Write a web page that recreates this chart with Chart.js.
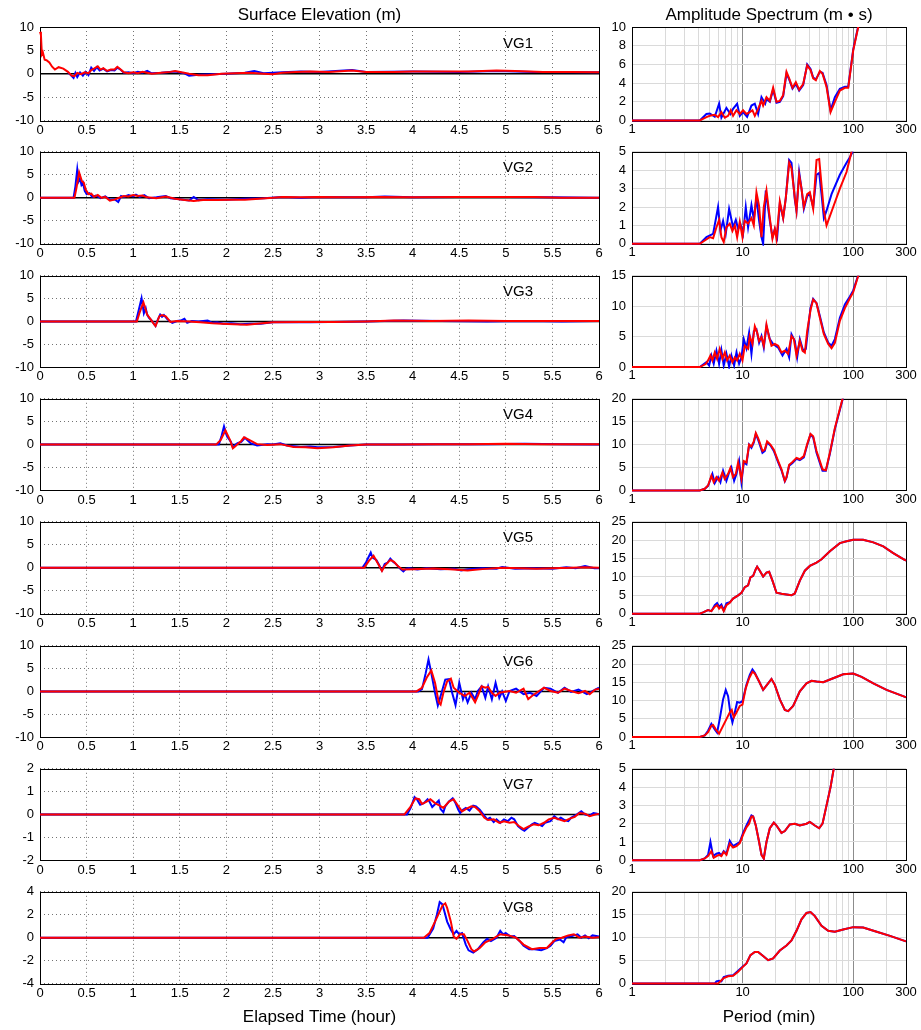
<!DOCTYPE html>
<html>
<head>
<meta charset="utf-8">
<title>Surface elevation and amplitude spectra, gauges VG1-VG8</title>
<script src="https://cdn.jsdelivr.net/npm/chart.js@4.4.1/dist/chart.umd.min.js"></script>
<style>
  html, body { margin: 0; padding: 0; background: #fff; }
  #figure { position: relative; width: 921px; height: 1030px; overflow: hidden; background: #fff; }
  #figure canvas { position: absolute; }
</style>
</head>
<body>
<div id="figure"></div>
<script>
// ---------- axis ticks ----------
const hourTicks = [0, 0.5, 1, 1.5, 2, 2.5, 3, 3.5, 4, 4.5, 5, 5.5, 6];
const periodGrid = [1, 2, 3, 4, 5, 6, 7, 8, 9, 10, 20, 30, 40, 50, 60, 70, 80, 90, 100, 200, 300];
const periodLabels = [1, 10, 100, 300];
const periodMajor = [10, 100];

const gaugeNames = ['VG1', 'VG2', 'VG3', 'VG4', 'VG5', 'VG6', 'VG7', 'VG8'];
const elevLimits = [10, 10, 10, 10, 10, 10, 2, 4];
const elevSteps = [5, 5, 5, 5, 5, 5, 1, 2];
const specLimits = [10, 5, 15, 20, 25, 25, 5, 20];
const specSteps = [2, 1, 5, 5, 5, 5, 1, 5];

// ---------- surface elevation [hour, m] ----------
const vg1ObsElev = [[0.3,0.3],[0.33,-0.3],[0.36,-0.9],[0.38,0.2],[0.4,-0.7],[0.43,0.3],[0.46,-0.4],[0.49,0.4],[0.52,-0.3],[0.55,1.3],[0.58,0.6],[0.61,1.4],[0.64,0.7],[0.68,1.1],[0.72,0.5],[0.76,0.8],[0.8,0.7],[0.83,1.3],[0.87,0.8],[0.9,0.2],[0.95,0.3],[1.0,0.1],[1.05,0.4],[1.1,0.2],[1.15,0.6],[1.2,0.1],[1.3,0.2],[1.45,0.5],[1.55,0.1],[1.6,-0.4],[1.7,-0.2],[1.85,-0.1],[2.0,0.0],[2.2,0.2],[2.3,0.6],[2.4,0.1],[2.6,0.3],[2.8,0.5],[3.0,0.4],[3.35,0.8],[3.5,0.4],[4.0,0.5],[4.5,0.4],[4.9,0.6],[5.3,0.4],[6.0,0.3]];
const vg1SimElev = [[0,9.0],[0.01,8.3],[0.02,4.2],[0.03,4.6],[0.05,3.0],[0.07,2.9],[0.1,2.4],[0.13,1.5],[0.16,0.9],[0.2,1.4],[0.25,1.1],[0.3,0.4],[0.34,-0.4],[0.37,-0.5],[0.4,0.2],[0.44,-0.1],[0.48,0.3],[0.52,0.1],[0.55,0.8],[0.58,1.1],[0.62,1.6],[0.65,0.9],[0.68,1.2],[0.72,0.6],[0.76,0.9],[0.8,0.9],[0.83,1.5],[0.86,1.0],[0.9,0.3],[0.95,0.1],[1.0,0.3],[1.05,0.1],[1.1,0.4],[1.15,0.2],[1.2,0.0],[1.3,0.2],[1.4,0.4],[1.45,0.6],[1.52,0.3],[1.6,0.0],[1.7,-0.3],[1.8,-0.3],[1.85,-0.2],[1.95,0.0],[2.1,0.1],[2.25,0.2],[2.4,0.0],[2.5,-0.1],[2.6,0.2],[2.75,0.4],[2.9,0.5],[3.1,0.4],[3.35,0.7],[3.5,0.4],[3.8,0.4],[4.0,0.5],[4.3,0.5],[4.6,0.5],[4.9,0.7],[5.1,0.6],[5.4,0.4],[5.7,0.4],[6.0,0.3]];

const vg2ObsElev = [[0,0],[0.36,0],[0.38,2.5],[0.40,6.2],[0.415,3.6],[0.43,4.2],[0.445,2.8],[0.46,3.3],[0.48,1.5],[0.5,0.8],[0.53,1.0],[0.56,0.2],[0.6,0.5],[0.65,-0.1],[0.7,0.3],[0.75,-0.4],[0.8,-0.3],[0.84,-0.9],[0.87,0.4],[0.9,0.2],[0.95,0.6],[1.0,0.3],[1.03,0.7],[1.07,0.2],[1.12,0.6],[1.17,-0.1],[1.25,0.1],[1.35,0.4],[1.4,-0.1],[1.5,-0.3],[1.6,-0.6],[1.65,0.2],[1.7,-0.5],[1.8,-0.3],[2.0,-0.4],[2.2,-0.2],[2.4,-0.1],[2.6,0.2],[2.8,0.0],[3.0,0.2],[3.5,0.1],[3.7,0.3],[4.0,0.1],[4.5,0.2],[5.0,0.2],[5.5,0.1],[6.0,0.0]];
const vg2SimElev = [[0,0],[0.37,0],[0.39,2.0],[0.42,5.5],[0.45,3.6],[0.47,3.3],[0.49,1.8],[0.52,0.8],[0.55,0.9],[0.58,0.2],[0.62,0.6],[0.66,0.0],[0.7,0.2],[0.75,-0.6],[0.8,-0.4],[0.85,0.0],[0.9,0.4],[0.95,0.3],[1.0,0.6],[1.05,0.4],[1.1,0.5],[1.15,0.1],[1.25,-0.1],[1.35,0.3],[1.45,-0.2],[1.55,-0.5],[1.65,-0.7],[1.75,-0.5],[1.9,-0.5],[2.05,-0.4],[2.2,-0.4],[2.35,-0.2],[2.5,0.0],[2.6,0.2],[2.8,0.1],[3.0,0.2],[3.3,0.1],[3.65,0.2],[4.0,0.1],[4.5,0.2],[5.0,0.2],[5.3,0.2],[5.6,0.0],[6.0,0.0]];

const vg3ObsElev = [[0,0],[1.03,0],[1.06,2.5],[1.09,5.1],[1.115,1.8],[1.135,2.9],[1.15,1.5],[1.17,0.8],[1.2,0.2],[1.225,-0.6],[1.24,-1.0],[1.26,0.2],[1.29,1.5],[1.31,1.0],[1.33,1.4],[1.37,0.4],[1.42,-0.3],[1.47,0.1],[1.51,0.2],[1.55,0.6],[1.58,-0.3],[1.63,0.1],[1.7,0.0],[1.8,0.2],[1.85,-0.3],[1.9,-0.2],[1.97,-0.5],[2.05,-0.4],[2.15,-0.6],[2.25,-0.5],[2.37,-0.5],[2.5,-0.2],[2.7,-0.1],[2.9,-0.2],[3.1,-0.1],[3.5,0.0],[3.9,0.2],[4.3,0.1],[4.8,0.0],[5.2,0.1],[5.6,0.0],[6.0,0.1]];
const vg3SimElev = [[0,0],[1.04,0],[1.07,2.0],[1.11,4.2],[1.15,1.5],[1.19,0.4],[1.22,-0.5],[1.24,-1.0],[1.26,0.0],[1.28,1.1],[1.31,1.4],[1.35,1.1],[1.4,-0.1],[1.47,0.1],[1.6,0.0],[1.72,-0.2],[1.85,-0.4],[1.95,-0.5],[2.08,-0.6],[2.22,-0.7],[2.33,-0.5],[2.5,-0.2],[2.8,-0.1],[3.15,-0.1],[3.5,0.0],[3.8,0.2],[4.2,0.1],[4.6,0.2],[5.0,0.1],[5.5,0.1],[6.0,0.1]];

const vg4ObsElev = [[0,0],[1.92,0],[1.95,2.0],[1.975,4.0],[2.0,2.2],[2.01,1.7],[2.05,0.6],[2.07,-0.6],[2.1,0.0],[2.12,0.3],[2.16,0.6],[2.2,1.5],[2.23,0.9],[2.26,0.3],[2.33,-0.2],[2.44,0.1],[2.5,0.0],[2.58,0.3],[2.65,-0.2],[2.8,-0.5],[2.9,-0.4],[2.98,-0.6],[3.15,-0.5],[3.33,-0.2],[3.5,0.0],[3.9,0.0],[4.3,0.1],[4.8,0.1],[5.2,0.2],[5.6,0.1],[6.0,0.0]];
const vg4SimElev = [[0,0],[1.89,0],[1.94,1.0],[1.99,3.1],[2.04,1.0],[2.07,-0.8],[2.1,-0.3],[2.12,0.1],[2.16,0.8],[2.19,1.6],[2.24,1.1],[2.33,0.1],[2.44,-0.1],[2.58,0.1],[2.72,-0.5],[2.85,-0.6],[2.98,-0.8],[3.15,-0.6],[3.33,-0.2],[3.5,0.0],[3.8,0.0],[4.2,0.1],[4.6,0.1],[5.0,0.2],[5.4,0.1],[6.0,0.1]];

const vg5ObsElev = [[0,0],[3.46,0],[3.5,1.2],[3.55,3.3],[3.57,2.2],[3.61,1.7],[3.64,0.6],[3.66,-0.3],[3.67,-0.6],[3.7,0.8],[3.73,1.1],[3.76,2.0],[3.79,1.3],[3.81,1.0],[3.84,0.4],[3.87,-0.3],[3.9,-0.8],[3.93,-0.2],[3.96,-0.1],[4.05,-0.4],[4.15,-0.1],[4.3,-0.3],[4.45,-0.2],[4.52,-0.6],[4.6,-0.3],[4.75,-0.1],[4.9,-0.2],[4.96,0.15],[5.1,-0.2],[5.3,-0.1],[5.5,-0.2],[5.65,0.1],[5.75,-0.1],[5.85,0.4],[5.95,-0.1],[6.0,-0.1]];
const vg5SimElev = [[0,0],[3.48,0],[3.53,1.5],[3.58,2.6],[3.63,0.8],[3.67,-0.7],[3.7,0.4],[3.76,1.7],[3.8,1.3],[3.84,0.4],[3.89,-0.4],[4.0,-0.3],[4.22,-0.15],[4.4,-0.3],[4.59,-0.6],[4.75,-0.3],[4.96,0.0],[5.15,-0.1],[5.33,-0.2],[5.5,-0.1],[5.7,0.0],[5.85,0.1],[6.0,0.0]];

const vg6ObsElev = [[0,0],[4.06,0],[4.1,0.5],[4.14,4.0],[4.17,7.0],[4.2,4.0],[4.24,-0.3],[4.27,-3.1],[4.31,-0.3],[4.35,2.6],[4.39,2.7],[4.42,0.0],[4.46,-3.0],[4.5,1.9],[4.54,-1.7],[4.56,-0.6],[4.59,-2.4],[4.63,-0.3],[4.67,-1.7],[4.7,0.1],[4.74,1.1],[4.78,-1.4],[4.81,1.1],[4.85,-1.7],[4.89,1.9],[4.93,-1.4],[4.96,0.0],[5.0,-2.1],[5.04,0.1],[5.11,0.6],[5.19,-0.6],[5.26,-0.3],[5.33,-1.0],[5.41,0.8],[5.48,0.6],[5.56,-0.3],[5.63,0.8],[5.7,-0.1],[5.78,0.4],[5.87,-0.6],[5.96,0.4],[6.0,0.8]];
const vg6SimElev = [[0,0],[4.04,0],[4.1,0.8],[4.15,3.0],[4.2,4.6],[4.24,1.9],[4.28,-2.4],[4.3,-2.9],[4.33,-0.3],[4.37,2.2],[4.41,2.8],[4.44,0.8],[4.5,-0.3],[4.56,-1.0],[4.61,-0.3],[4.67,-2.4],[4.7,-1.0],[4.74,1.1],[4.78,0.8],[4.81,1.0],[4.85,-0.3],[4.89,-1.0],[4.93,-0.3],[5.04,0.1],[5.11,-0.3],[5.19,0.6],[5.24,-1.7],[5.28,-1.0],[5.33,-0.3],[5.41,0.8],[5.48,0.1],[5.56,-0.3],[5.63,0.6],[5.7,0.1],[5.78,-0.4],[5.85,0.1],[5.9,-0.6],[5.96,0.4],[6.0,0.6]];

const vg7ObsElev = [[0,0],[3.94,0],[3.98,0.3],[4.02,0.76],[4.05,0.64],[4.08,0.43],[4.12,0.5],[4.16,0.67],[4.18,0.57],[4.21,0.33],[4.24,0.45],[4.28,0.61],[4.3,0.24],[4.33,0.1],[4.35,0.36],[4.39,0.57],[4.43,0.71],[4.46,0.5],[4.49,0.21],[4.51,0.07],[4.54,0.21],[4.57,0.29],[4.61,0.17],[4.65,0.39],[4.68,0.36],[4.72,0.21],[4.76,0.0],[4.8,-0.21],[4.83,-0.14],[4.87,-0.33],[4.9,-0.21],[4.94,-0.36],[4.98,-0.21],[5.02,-0.29],[5.06,-0.14],[5.09,-0.21],[5.13,-0.5],[5.17,-0.64],[5.2,-0.71],[5.24,-0.57],[5.28,-0.43],[5.31,-0.36],[5.35,-0.43],[5.39,-0.5],[5.42,-0.36],[5.48,-0.29],[5.52,-0.07],[5.56,-0.21],[5.59,-0.14],[5.63,-0.24],[5.67,-0.29],[5.7,-0.14],[5.76,0.0],[5.81,0.14],[5.85,0.0],[5.9,-0.04],[5.94,0.07],[5.98,0.04],[6.0,0.0]];
const vg7SimElev = [[0,0],[3.91,0],[3.97,0.3],[4.03,0.71],[4.07,0.67],[4.1,0.46],[4.15,0.57],[4.19,0.67],[4.24,0.5],[4.29,0.39],[4.33,0.29],[4.39,0.57],[4.44,0.67],[4.48,0.43],[4.53,0.14],[4.57,0.24],[4.63,0.36],[4.67,0.33],[4.72,0.14],[4.77,-0.14],[4.81,-0.24],[4.87,-0.21],[4.93,-0.36],[4.98,-0.29],[5.04,-0.36],[5.09,-0.33],[5.14,-0.5],[5.19,-0.64],[5.24,-0.53],[5.3,-0.43],[5.35,-0.47],[5.41,-0.36],[5.46,-0.21],[5.52,-0.14],[5.57,-0.21],[5.63,-0.29],[5.68,-0.19],[5.74,-0.1],[5.79,0.07],[5.85,0.04],[5.9,-0.07],[5.96,0.0],[6.0,0.03]];

const vg8ObsElev = [[0,0],[4.16,0],[4.22,0.8],[4.26,2.0],[4.29,3.1],[4.32,2.9],[4.34,2.3],[4.37,1.4],[4.41,0.7],[4.44,0.3],[4.47,0.6],[4.5,0.3],[4.53,0.4],[4.57,-0.6],[4.6,-1.1],[4.65,-1.3],[4.7,-1.0],[4.76,-0.4],[4.8,-0.1],[4.84,-0.3],[4.9,0.0],[4.94,0.6],[4.97,0.3],[5.0,0.4],[5.05,0.1],[5.09,0.15],[5.15,-0.3],[5.19,-0.7],[5.25,-1.0],[5.31,-1.0],[5.38,-1.1],[5.44,-0.9],[5.48,-0.7],[5.52,-0.3],[5.58,-0.15],[5.62,-0.4],[5.65,0.05],[5.71,0.15],[5.77,0.3],[5.81,0.0],[5.85,0.2],[5.89,-0.05],[5.93,0.2],[6.0,0.1]];
const vg8SimElev = [[0,0],[4.12,0],[4.18,0.4],[4.24,1.4],[4.32,2.8],[4.35,3.0],[4.37,2.6],[4.41,1.4],[4.44,0.1],[4.47,-0.1],[4.51,0.3],[4.55,0.3],[4.59,-0.3],[4.63,-1.0],[4.66,-1.2],[4.72,-0.9],[4.78,-0.4],[4.86,-0.1],[4.94,0.3],[5.03,0.2],[5.11,0.0],[5.19,-0.6],[5.28,-1.0],[5.36,-0.9],[5.44,-0.9],[5.5,-0.4],[5.54,-0.1],[5.6,0.0],[5.67,0.2],[5.73,0.3],[5.79,0.0],[5.85,0.1],[5.93,0.0],[6.0,0.05]];

// ---------- amplitude spectra [period min, m·s] ----------
const vg1ObsSpec = [[1,0],[4.10,0],[4.71,0.7],[5.05,0.75],[5.60,0.4],[6.13,1.8],[6.43,0.3],[7.14,1.35],[7.76,0.7],[8.20,1.25],[8.92,1.8],[9.43,0.5],[10.1,0.9],[10.98,0.4],[12.02,1.6],[12.89,1.8],[13.81,0.7],[14.81,2.5],[16.0,1.8],[16.43,2.3],[17.62,2.0],[18.88,3.3],[20.24,1.9],[21.70,2.0],[23.26,2.6],[24.93,5.0],[26.35,4.4],[28.25,3.4],[30.28,3.9],[32.45,3.2],[35.28,3.8],[38.35,6.0],[41.11,5.5],[43.45,4.6],[45.93,4.4],[49.93,5.2],[52.78,5.1],[57.38,3.8],[62.37,1.1],[68.25,2.5],[75.72,3.4],[84.06,3.6],[90.11,3.6],[100,7.6],[111,10.1],[120,11.6]];
const vg1SimSpec = [[1,0],[4.10,0],[4.71,0.36],[5.05,0.5],[5.60,0.6],[6.00,0.36],[6.43,0.9],[6.90,0.3],[7.39,0.5],[7.81,1.1],[8.20,0.5],[8.80,1.1],[9.43,0.7],[10.1,1.1],[10.83,0.7],[11.61,0.9],[12.27,1.1],[12.89,0.5],[13.81,1.25],[14.81,2.1],[15.33,1.6],[16.43,2.5],[17.62,2.1],[18.88,3.5],[20.24,2.0],[21.70,2.1],[23.26,2.7],[24.93,5.2],[26.35,4.5],[28.25,3.5],[30.28,4.1],[32.45,3.3],[35.28,3.9],[38.35,5.9],[41.11,5.4],[43.45,4.5],[45.93,4.3],[49.93,5.3],[52.78,5.0],[57.38,3.6],[62.37,0.9],[68.25,2.0],[75.72,3.2],[84.06,3.5],[90.11,3.5],[100,7.5],[111,10.0],[120,11.5]];

const vg2ObsSpec = [[1,0],[4.10,0],[4.71,0.36],[5.41,0.54],[6.00,2.0],[6.30,0.7],[6.66,1.25],[7.04,0.54],[7.55,1.9],[8.20,0.9],[8.68,1.3],[9.11,0.8],[9.56,1.07],[10.1,0.54],[10.68,2.0],[11.21,0.9],[12.02,2.1],[12.62,1.34],[13.34,2.5],[14.10,1.25],[14.81,0.36],[15.33,0.0],[16.20,2.9],[17.62,1.25],[18.62,0.36],[19.55,0.8],[20.53,0.36],[21.70,2.2],[23.26,1.4],[24.58,2.5],[26.35,4.55],[27.67,4.4],[29.65,2.4],[30.70,1.8],[32.45,3.9],[34.07,3.0],[35.77,1.9],[38.35,2.6],[40.54,2.7],[43.45,2.0],[46.58,3.75],[49.24,3.85],[51.69,2.7],[54.27,1.4],[57.38,1.8],[63.67,2.7],[75.72,3.75],[87.03,4.4],[93.28,4.7],[98.6,5.0],[105,5.5]];
const vg2SimSpec = [[1,0],[4.10,0],[4.55,0.18],[5.05,0.36],[5.41,0.3],[5.80,0.9],[6.13,1.3],[6.43,0.36],[6.75,0.1],[7.14,0.9],[7.65,1.1],[8.09,0.7],[8.50,1.0],[8.92,0.36],[9.43,1.2],[9.97,0.36],[10.46,1.25],[11.21,1.1],[12.02,1.4],[12.62,1.0],[13.34,2.8],[14.10,2.05],[14.81,0.36],[15.54,2.0],[16.43,2.9],[17.62,1.4],[18.62,0.27],[19.55,0.8],[20.24,0.27],[21.70,2.3],[23.26,1.4],[24.58,2.5],[26.35,4.4],[27.67,4.1],[29.65,2.5],[30.70,1.8],[32.45,3.75],[34.07,3.0],[35.77,2.0],[38.35,2.7],[40.54,2.8],[43.45,1.9],[46.58,4.55],[49.24,4.6],[51.69,3.2],[54.27,1.8],[57.38,1.0],[65.92,2.0],[75.72,3.0],[87.03,3.9],[96.59,5.0],[105,5.6]];

const vg3ObsSpec = [[1,0],[4.10,0],[4.71,0.8],[4.98,0.27],[5.22,1.9],[5.48,0.54],[5.80,2.7],[6.13,0.54],[6.43,2.8],[6.75,0.27],[7.14,2.2],[7.55,0.1],[7.92,1.9],[8.38,0.27],[8.80,2.4],[9.30,0.54],[9.76,1.6],[10.25,4.6],[10.83,3.1],[11.45,5.7],[12.02,2.2],[12.62,5.9],[13.34,6.2],[14.10,4.0],[14.81,5.1],[15.54,3.2],[16.43,6.7],[17.62,4.6],[18.88,3.8],[20.96,3.2],[22.94,1.9],[24.93,3.0],[26.35,1.6],[27.67,5.4],[29.65,4.3],[31.13,1.6],[32.91,4.6],[35.28,2.7],[37.29,3.0],[39.16,6.5],[41.11,9.7],[43.45,11.2],[46.58,10.5],[49.93,8.4],[54.27,5.7],[59.40,4.0],[63.67,3.5],[68.25,4.6],[75.72,8.1],[84.06,10.3],[93.28,11.6],[100,12.6],[111,15.1],[120,16.6]];
const vg3SimSpec = [[1,0],[4.10,0],[4.64,0.5],[4.87,1.1],[5.12,1.9],[5.33,1.1],[5.60,2.4],[5.88,1.35],[6.21,3.0],[6.57,1.35],[6.90,2.4],[7.24,1.1],[7.65,1.9],[8.09,0.8],[8.50,1.6],[8.92,1.1],[9.43,2.2],[9.97,1.1],[10.46,3.5],[11.21,3.0],[11.61,5.1],[12.27,3.8],[12.89,6.7],[13.53,5.7],[14.10,4.3],[14.81,4.9],[15.54,3.5],[16.43,7.0],[17.37,4.9],[18.24,3.5],[19.55,3.8],[20.96,3.5],[22.46,2.4],[24.08,2.7],[25.81,2.2],[27.67,5.1],[29.04,4.6],[30.70,1.9],[32.91,4.3],[34.79,2.7],[36.52,2.4],[38.35,5.9],[41.11,9.4],[43.45,11.1],[46.58,10.5],[49.93,8.1],[54.27,5.4],[59.40,3.8],[63.67,3.1],[68.25,4.0],[75.72,7.6],[84.06,9.7],[93.28,11.3],[100,12.3],[111,15.0],[120,16.5]];

const vg4ObsSpec = [[1,0],[4.10,0],[4.55,0.36],[4.87,1.0],[5.33,3.6],[5.60,1.6],[6.00,2.9],[6.30,1.8],[6.66,4.3],[7.14,2.1],[7.55,3.9],[7.92,5.0],[8.38,2.1],[8.80,3.6],[9.30,6.4],[9.76,1.8],[10.25,6.1],[10.83,5.7],[11.45,10.0],[12.02,9.3],[12.62,10.4],[13.16,12.3],[13.81,11.1],[14.30,10.0],[15.12,8.2],[15.87,8.6],[16.66,10.5],[17.86,9.8],[19.15,8.6],[20.96,6.1],[22.46,4.4],[24.08,2.0],[24.93,2.8],[26.35,5.4],[28.25,6.0],[30.70,6.9],[32.91,6.6],[35.77,7.2],[38.35,9.9],[41.11,12.2],[43.45,11.6],[46.58,8.2],[49.93,6.0],[52.78,4.3],[56.57,4.3],[61.50,8.0],[68.25,13.4],[73.14,16.2],[80.07,19.8],[86,22.3]];
const vg4SimSpec = [[1,0],[4.10,0],[4.55,0.36],[4.87,1.07],[5.22,3.2],[5.48,1.8],[5.80,2.9],[6.13,2.1],[6.57,3.9],[6.90,2.5],[7.39,3.6],[7.76,4.9],[8.20,2.9],[8.68,3.6],[9.11,6.1],[9.76,2.5],[10.25,6.4],[10.83,6.1],[11.45,10.0],[12.02,9.6],[12.62,10.7],[13.16,12.5],[13.81,11.4],[14.30,10.4],[15.12,8.6],[15.87,8.9],[16.66,10.7],[17.86,10.0],[19.15,8.9],[20.96,6.4],[22.46,4.6],[24.08,2.1],[24.93,2.9],[26.35,5.6],[28.25,6.2],[30.70,7.1],[32.91,6.8],[35.77,7.5],[38.35,10.1],[41.11,12.3],[43.45,11.8],[46.58,8.6],[49.93,6.4],[52.78,4.6],[56.57,4.4],[61.50,8.2],[68.25,13.6],[73.14,16.4],[80.07,20.0],[86,22.5]];

// VG5, VG6, VG7 and VG8: both spectra coincide beyond the short-period band
const vg5SpecTail = [[8.20,4.1],[9.11,5.0],[9.76,5.7],[10.46,7.2],[11.21,7.7],[11.77,9.9],[12.45,10.3],[13.16,12.1],[13.53,12.8],[14.30,11.7],[15.33,10.1],[16.43,11.2],[17.37,11.4],[18.62,9.0],[20.24,5.7],[22.46,5.4],[24.93,5.2],[27.67,5.0],[29.65,5.5],[32.91,9.0],[36.52,11.7],[40.54,13.0],[46.58,13.9],[51.69,14.8],[61.50,17.0],[75.72,19.2],[87.03,19.7],[100,20.1],[123,20.1],[152,19.4],[187,18.3],[230,16.5],[294,14.6],[300,14.4]];
const vg5ObsSpec = [[1,0],[4.10,0],[4.39,0.36],[4.87,1.0],[5.22,0.7],[5.60,2.3],[5.88,2.9],[6.13,1.9],[6.43,2.5],[6.75,0.9],[7.14,2.8],[7.65,3.1], ...vg5SpecTail];
const vg5SimSpec = [[1,0],[4.10,0],[4.39,0.36],[4.87,1.0],[5.22,0.7],[5.60,1.9],[5.88,2.3],[6.13,1.4],[6.43,2.0],[6.75,0.7],[7.14,2.3],[7.65,3.0], ...vg5SpecTail];

const vg6SpecTail = [[14.10,15.2],[15.33,12.9],[17.01,14.7],[18.24,15.9],[19.55,14.3],[21.70,10.3],[24.08,7.4],[25.81,7.1],[28.64,8.5],[32.91,12.5],[37.82,14.7],[41.98,15.4],[46.58,15.2],[53.52,15.0],[65.92,16.1],[81.19,17.2],[100,17.4],[119,16.5],[152,14.7],[200,12.9],[294,11.0],[300,10.9]];
const vg6ObsSpec = [[1,0],[4.10,0],[4.55,0.45],[4.87,1.7],[5.22,3.6],[5.60,2.1],[5.88,1.2],[6.21,4.9],[6.66,10.3],[7.04,12.9],[7.39,11.2],[7.81,5.8],[8.09,4.0],[8.50,6.7],[8.92,9.6],[9.43,9.4],[9.97,9.8],[10.83,14.3],[11.61,17.0],[12.27,18.5],[12.89,17.6], ...vg6SpecTail];
const vg6SimSpec = [[1,0],[4.10,0],[4.55,0.45],[4.87,1.3],[5.22,3.1],[5.41,3.3],[5.72,2.1],[6.13,0.9],[6.57,2.7],[7.14,4.9],[7.65,6.7],[7.98,7.4],[8.32,5.4],[8.80,6.7],[9.43,8.5],[9.97,8.9],[10.68,13.4],[11.45,16.1],[12.27,17.9],[12.89,17.4], ...vg6SpecTail];

const vg7SpecTail = [[13.16,1.9],[14.10,1.0],[14.81,0.3],[15.54,0.1],[16.43,1.0],[17.62,1.75],[19.15,2.06],[20.24,1.9],[22.46,1.5],[24.08,1.6],[26.72,1.96],[29.65,2.0],[32.91,1.9],[37.82,2.0],[40.54,2.1],[44.99,1.9],[49.24,1.75],[52.78,2.0],[57.38,3.0],[62.37,4.0],[66.6,5.0],[72,6.0]];
const vg7ObsSpec = [[1,0],[4.10,0],[4.55,0.1],[4.87,0.3],[5.12,1.0],[5.41,0.23],[5.80,0.36],[6.13,0.4],[6.43,0.27],[6.75,0.5],[7.14,0.36],[7.65,1.07],[8.20,0.77],[9.43,1.0],[10.1,1.5],[10.83,1.9],[12.02,2.45],[12.45,2.4], ...vg7SpecTail];
const vg7SimSpec = [[1,0],[4.10,0],[4.55,0.1],[4.87,0.23],[5.22,0.5],[5.48,0.14],[5.80,0.23],[6.13,0.3],[6.43,0.23],[6.75,0.46],[7.14,0.3],[7.65,0.9],[8.20,0.7],[8.80,0.77],[9.43,0.94],[10.1,1.4],[10.83,1.8],[11.45,2.0],[12.02,2.4],[12.45,2.4], ...vg7SpecTail];

const vg8SpecTail = [[10.83,4.4],[11.77,6.2],[12.89,6.9],[13.81,6.9],[15.33,6.0],[17.01,5.1],[18.88,5.5],[21.70,7.2],[24.93,8.3],[27.67,9.4],[30.70,11.5],[34.07,14.0],[37.82,15.4],[41.11,15.6],[44.99,14.7],[51.69,12.6],[59.40,11.5],[68.25,11.3],[81.19,11.8],[100,12.3],[123,12.2],[163,11.3],[215,10.4],[300,9.2]];
const vg8ObsSpec = [[1,0],[5.60,0],[5.80,0.5],[6.13,0.6],[6.43,0.5],[6.75,1.4],[7.39,1.7],[8.20,1.8],[9.11,2.8],[10.1,3.8], ...vg8SpecTail];
const vg8SimSpec = [[1,0],[6.00,0],[6.30,0.5],[6.75,1.2],[7.39,1.6],[8.20,1.7],[9.11,2.6],[10.1,3.7], ...vg8SpecTail];

const zeroLine = [[0,0],[6,0]];

const elevObserved = [vg1ObsElev, vg2ObsElev, vg3ObsElev, vg4ObsElev, vg5ObsElev, vg6ObsElev, vg7ObsElev, vg8ObsElev];
const elevSimulated = [vg1SimElev, vg2SimElev, vg3SimElev, vg4SimElev, vg5SimElev, vg6SimElev, vg7SimElev, vg8SimElev];
const specObserved = [vg1ObsSpec, vg2ObsSpec, vg3ObsSpec, vg4ObsSpec, vg5ObsSpec, vg6ObsSpec, vg7ObsSpec, vg8ObsSpec];
const specSimulated = [vg1SimSpec, vg2SimSpec, vg3SimSpec, vg4SimSpec, vg5SimSpec, vg6SimSpec, vg7SimSpec, vg8SimSpec];

// ---------- styling and layout ----------
const FONT = '"Liberation Sans", Arial, Helvetica, sans-serif';
Chart.defaults.font.family = FONT;
Chart.defaults.font.size = 13;
Chart.defaults.color = '#000';

const BLUE = '#0000ff';
const RED = '#ff0000';

const ROW_TOP0 = 27;
const ROW_STEP = 123.3;
const PLOT_H = 93.5;
const FIG_H = 1030;
const LEFT_COL = { canvasLeft: 0, canvasWidth: 612, axisWidth: 40, plotRight: 599 };
const RIGHT_COL = { canvasLeft: 600, canvasWidth: 321, axisWidth: 32, plotRight: 906 };

const figure = document.getElementById('figure');

function toPoints(pairs) {
  return pairs.map(([x, y]) => ({ x, y }));
}

// every tick from min to max in fixed steps (value axes)
function stepTicks(min, max, step) {
  const out = [];
  for (let k = 0; min + k * step <= max + 1e-9; k++) out.push({ value: min + k * step });
  return out;
}

function makeCanvas(left, top, width, height) {
  const c = document.createElement('canvas');
  c.width = width;
  c.height = height;
  c.style.left = left + 'px';
  c.style.top = top + 'px';
  c.style.width = width + 'px';
  c.style.height = height + 'px';
  figure.appendChild(c);
  return c;
}

// plot frame (box) drawn under the curves
const framePlugin = {
  id: 'frame',
  beforeDatasetsDraw(chart) {
    const { ctx, chartArea: a } = chart;
    const l = Math.round(a.left) + 0.5, t = Math.round(a.top) + 0.5;
    const r = Math.round(a.right) + 0.5, b = Math.round(a.bottom) + 0.5;
    ctx.save();
    ctx.strokeStyle = '#000';
    ctx.lineWidth = 1;
    ctx.strokeRect(l, t, r - l, b - t);
    ctx.restore();
  }
};

// gauge name written inside each elevation panel
const gaugeLabelPlugin = {
  id: 'gaugeLabel',
  afterDatasetsDraw(chart, args, opts) {
    if (!opts.text) return;
    const { ctx, chartArea: a } = chart;
    ctx.save();
    ctx.font = '15px ' + FONT;
    ctx.fillStyle = '#000';
    ctx.textAlign = 'left';
    ctx.textBaseline = 'middle';
    ctx.fillText(opts.text, a.left + 463, a.top + 16.5);
    ctx.restore();
  }
};

function rowGeometry(i) {
  const top = ROW_TOP0 + i * ROW_STEP;
  const canvasTop = i === 0 ? 0 : Math.round(top) - 12;
  const padTop = i === 0 ? 0 : top - canvasTop;
  const areaBottom = top + PLOT_H - canvasTop;
  let axisH, canvasH, padBottom;
  if (i === 7) {
    canvasH = FIG_H - canvasTop;
    axisH = canvasH - areaBottom;
    padBottom = 0;
  } else {
    axisH = 22;
    canvasH = Math.ceil(areaBottom + axisH);
    padBottom = canvasH - areaBottom - axisH;
  }
  return { canvasTop, canvasH, padTop, padBottom, axisH };
}

function lineSet(pairs, color, width) {
  return {
    data: toPoints(pairs),
    borderColor: color,
    borderWidth: width,
    pointRadius: 0,
    tension: 0,
    fill: false,
    clip: { left: 1, top: 0, right: 1, bottom: 2 }
  };
}

function baseOptions(i, g, col, titleText) {
  return {
    responsive: false,
    animation: false,
    devicePixelRatio: 1,
    events: [],
    layout: { padding: { top: g.padTop, bottom: g.padBottom, left: 0, right: col.canvasWidth - col.plotRight + col.canvasLeft } },
    plugins: {
      legend: { display: false },
      tooltip: { enabled: false },
      title: {
        display: i === 0,
        text: titleText,
        fullSize: false,
        font: { size: 17, weight: 'normal', family: FONT },
        color: '#000',
        padding: { top: 5, bottom: 1.6 }
      }
    }
  };
}

// ---------- elevation panels ----------
function elevationChart(i) {
  const g = rowGeometry(i);
  const col = LEFT_COL;
  const canvas = makeCanvas(col.canvasLeft, g.canvasTop, col.canvasWidth, g.canvasH);
  const lim = elevLimits[i];
  const opts = baseOptions(i, g, col, 'Surface Elevation (m)');
  opts.plugins.gaugeLabel = { text: gaugeNames[i] };
  opts.scales = {
    x: {
      type: 'linear', min: 0, max: 6,
      afterBuildTicks: s => { s.ticks = hourTicks.map(v => ({ value: v })); },
      afterFit: s => { s.height = g.axisH; },
      ticks: { callback: v => String(v), autoSkip: false, maxRotation: 0, padding: 2 },
      grid: { color: 'rgba(0,0,0,0.55)', lineWidth: 1, drawTicks: false },
      border: { display: false, dash: [1, 3] },
      title: { display: i === 7, text: 'Elapsed Time (hour)', font: { size: 17, family: FONT }, color: '#000', padding: { top: 0, bottom: 2 } }
    },
    y: {
      type: 'linear', min: -lim, max: lim,
      afterBuildTicks: s => { s.ticks = stepTicks(-lim, lim, elevSteps[i]); },
      ticks: { callback: v => String(v), autoSkip: false, padding: 6 },
      afterFit: s => { s.width = col.axisWidth; },
      grid: { color: 'rgba(0,0,0,0.55)', lineWidth: 1, drawTicks: false },
      border: { display: false, dash: [1, 3] }
    }
  };
  new Chart(canvas, {
    type: 'line',
    data: {
      datasets: [
        lineSet(elevSimulated[i], RED, 2),
        lineSet(elevObserved[i], BLUE, 2),
        lineSet(zeroLine, '#000', 1.5)
      ]
    },
    options: opts,
    plugins: [framePlugin, gaugeLabelPlugin]
  });
}

// ---------- spectrum panels ----------
function spectrumChart(i) {
  const g = rowGeometry(i);
  const col = RIGHT_COL;
  const canvas = makeCanvas(col.canvasLeft, g.canvasTop, col.canvasWidth, g.canvasH);
  const opts = baseOptions(i, g, col, 'Amplitude Spectrum (m \u2022 s)');
  opts.scales = {
    x: {
      type: 'logarithmic', min: 1, max: 300,
      afterBuildTicks: s => { s.ticks = periodGrid.map(v => ({ value: v })); },
      afterFit: s => { s.height = g.axisH; },
      ticks: { callback: v => (periodLabels.includes(v) ? String(v) : ''), autoSkip: false, maxRotation: 0, padding: 1 },
      grid: {
        color: c => (c.tick && periodMajor.includes(c.tick.value) ? '#8c8c8c' : '#dadada'),
        lineWidth: 1, drawTicks: false
      },
      border: { display: false },
      title: { display: i === 7, text: 'Period (min)', font: { size: 17, family: FONT }, color: '#000', padding: { top: 0, bottom: 2 } }
    },
    y: {
      type: 'linear', min: 0, max: specLimits[i],
      afterBuildTicks: s => { s.ticks = stepTicks(0, specLimits[i], specSteps[i]); },
      ticks: { callback: v => String(v), autoSkip: false, padding: 6 },
      afterFit: s => { s.width = col.axisWidth; },
      grid: { color: '#dadada', lineWidth: 1, drawTicks: false },
      border: { display: false }
    }
  };
  new Chart(canvas, {
    type: 'line',
    data: {
      datasets: [
        lineSet(specSimulated[i], RED, 2),
        lineSet(specObserved[i], BLUE, 2)
      ]
    },
    options: opts,
    plugins: [framePlugin]
  });
}

for (let i = 0; i < gaugeNames.length; i++) {
  elevationChart(i);
  spectrumChart(i);
}
</script>
</body>
</html>
